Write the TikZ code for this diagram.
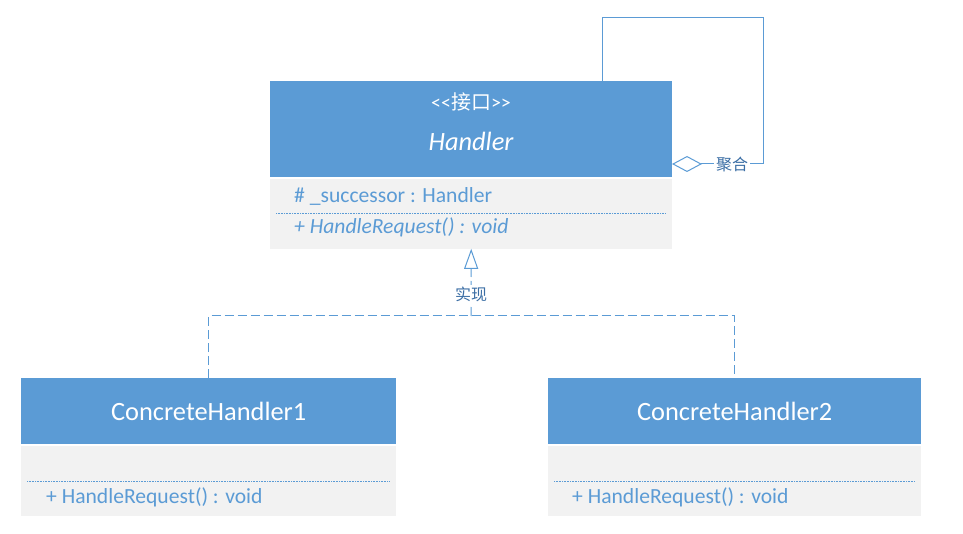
\documentclass[tikz,border=0pt]{standalone}
\usepackage{fontspec}
\setmainfont{Carlito}
\newfontfamily\cjk{Noto Sans CJK SC}
\usetikzlibrary{arrows.meta,positioning,calc}
\definecolor{umlblue}{HTML}{5B9BD5}
\definecolor{umlgrey}{HTML}{F2F2F2}
\definecolor{relblue}{HTML}{3B6EA5}
\newcommand\umltitle{\fontsize{26.4}{30}\selectfont}
\newcommand\umlmember{\fontsize{21.6}{25}\selectfont}
\tikzset{
  head/.style={fill=umlblue,text=white,inner sep=0pt,font=\umltitle},
  body/.style={fill=umlgrey,inner sep=0pt},
  stereo/.style={text=white,inner sep=0pt,font=\fontsize{20}{24}\selectfont},
  title/.style={text=white,inner sep=0pt,font=\umltitle\itshape},
  member/.style={text=umlblue,inner sep=0pt,anchor=base west,font=\umlmember},
  memberit/.style={member,font=\umlmember\itshape},
  sep/.style={draw=umlblue,densely dotted,line width=0.6pt},
  link/.style={draw=umlblue,line width=1pt},
  realize/.style={link,dash pattern=on 9pt off 4pt},
  aggregate/.style={link,-{Diamond[open,length=30pt,width=16pt]}},
  rel/.style={font=\cjk\fontsize{16}{18}\selectfont,text=relblue,fill=white,inner sep=2pt}
}
\begin{document}
\begin{tikzpicture}[x=1pt,y=-1pt]
\useasboundingbox (0,0) rectangle (963,534);
% interface
\node[head,minimum width=402pt,minimum height=96pt,anchor=north west] (handlerhead) at (270,81) {};
\node[body,minimum width=402pt,minimum height=70pt,below=1pt of handlerhead] (handlerbody) {};
\node[stereo,anchor=base] (handlerstereo) at (471,110) {<{}<{\cjk 接口}>{}>};
\node[title,anchor=base] (handlername) at (471,151) {Handler};
\node[member] (successor) at (294,203) {\# \_successor : Handler};
\draw[sep] (276,213) -- (666,213);
\node[memberit] (handlerop) at (294,234) {+ HandleRequest() : void};

% concrete classes
\node[head,minimum width=375pt,minimum height=66pt,anchor=north west] (ch1head) at (21,378) {ConcreteHandler1};
\node[body,minimum width=375pt,minimum height=70pt,below=1pt of ch1head] (ch1body) {};
\draw[sep] (27,481) -- (390,481);
\node[member] (ch1op) at (46,503) {+ HandleRequest() : void};

\node[head,minimum width=373pt,minimum height=66pt,anchor=north west] (ch2head) at (548,378) {ConcreteHandler2};
\node[body,minimum width=373pt,minimum height=70pt,below=1pt of ch2head] (ch2body) {};
\draw[sep] (554,481) -- (915,481);
\node[member] (ch2op) at (572,503) {+ HandleRequest() : void};

% realization
\coordinate (hub) at (471,316);
\draw[realize] (ch1head.north) |- (hub) -| (ch2head.north);
\draw[realize,-{Triangle[open,length=20pt,width=14pt]}] (hub) -- node[rel,pos=0.32]{实现} (handlerbody.south);

% self aggregation
\coordinate (selfout) at (602,81);
\coordinate (selftop) at (763,18);
\coordinate (selfin) at (672,164);
\draw[aggregate] (selfout) |- (selftop) |- node[rel,pos=0.67]{聚合} (selfin);
\end{tikzpicture}
\end{document}
